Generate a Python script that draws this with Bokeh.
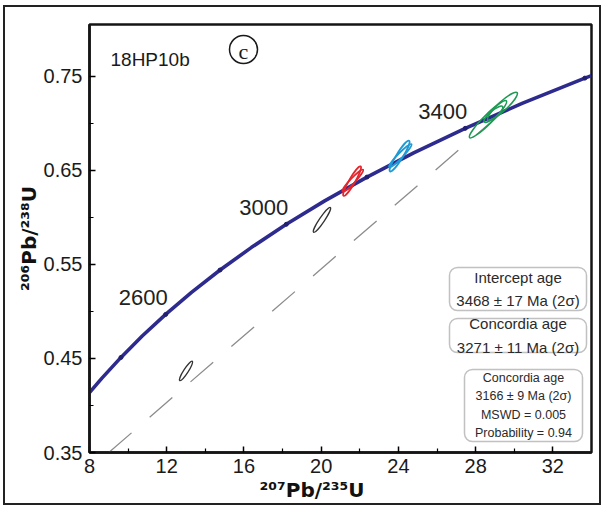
import math
from bokeh.plotting import figure
from bokeh.models import FixedTicker, Label, BoxAnnotation, Range1d, Title
from bokeh.embed import file_html
from bokeh.resources import INLINE
from bokeh.core.properties import value

# ---------------- data ----------------
# Concordia nodes: age (Ma), 207Pb/235U, 206Pb/238U
conc_age = [2231, 2300, 2400, 2500, 2600, 2700, 2800, 2900, 3000, 3100, 3200,
            3300, 3400, 3500, 3600, 3610]
conc_x = [8.0, 8.633, 9.630, 10.730, 11.944, 13.283, 14.762, 16.393, 18.193,
          20.180, 22.372, 24.790, 27.460, 30.405, 33.656, 34.0]
conc_y = [0.4136, 0.4288, 0.4511, 0.4738, 0.4968, 0.5202, 0.5440, 0.5681,
          0.5926, 0.6175, 0.6428, 0.6685, 0.6946, 0.7211, 0.7480, 0.7507]
marker_ages = [2400, 2600, 2800, 3000, 3200, 3400, 3600]
label_ages = [2600, 3000, 3400]

# Discordia (lower end at the axis, upper intercept 3468 Ma)
dis_x = [9.0, 29.43]
dis_y = [0.35, 0.7125]

# Analyses (ellipse centres)
ell_x = [13.00, 20.04, 21.60, 21.64, 24.06, 24.10, 28.64, 29.39, 28.92]
ell_y = [0.4367, 0.5973, 0.6385, 0.6390, 0.6651, 0.6656, 0.7043, 0.7181, 0.7096]
ell_group = ["grey", "grey", "red", "red", "blue", "blue", "green", "green", "green"]

x_ticks = [8, 12, 16, 20, 24, 28, 32]
x_minor = [10, 14, 18, 22, 26, 30]
y_ticks = [0.35, 0.45, 0.55, 0.65, 0.75]
y_minor = [0.40, 0.50, 0.60, 0.70]

x_title = "\u00b2\u2070\u2077Pb/\u00b2\u00b3\u2075U"
y_title = "\u00b2\u2070\u2076Pb/\u00b2\u00b3\u2078U"
sample_name = "18HP10b"
panel_letter = "c"
box_texts = ["Intercept age\n3468 \u00b1 17 Ma (2\u03c3)",
             "Concordia age\n3271 \u00b1 11 Ma (2\u03c3)",
             "Concordia age\n3166 \u00b1 9 Ma (2\u03c3)\nMSWD = 0.005\nProbability = 0.94"]

# ---------------- figure ----------------
OX, OY = 5, 7            # page offset of the canvas (inside the panel border)
X0, X1 = 8, 34
Y0, Y1 = 0.35, 0.805
W, H = 598, 500
FL, FR, FT, FB = 89 - OX, 591 - OX, 24 - OY, 452 - OY  # frame edges, canvas px

p = figure(width=W, height=H, x_range=Range1d(X0, X1), y_range=Range1d(Y0, Y1),
           output_backend="svg", toolbar_location=None,
           min_border_left=FL, min_border_right=W - FR,
           min_border_top=FT, min_border_bottom=H - FB)
p.margin = (OY - 2, 0, 0, OX - 2)
p.styles = {"border": "2px solid #222222"}
p.xgrid.visible = False
p.ygrid.visible = False
p.background_fill_color = "white"
p.border_fill_color = "white"
p.outline_line_color = "#151515"
p.outline_line_width = 2.5

# helpers: page px -> data (for annotation placement)
def cx(px):
    return X0 + (px - OX - FL) * (X1 - X0) / (FR - FL)

def cy(py):
    return Y0 + (FB - (py - OY)) * (Y1 - Y0) / (FB - FT)

for ax, tk, mn in ((p.xaxis, x_ticks, x_minor), (p.yaxis, y_ticks, y_minor)):
    ax.ticker = FixedTicker(ticks=tk, minor_ticks=mn)
    ax.axis_line_width = 2.5
    ax.axis_line_color = "#151515"
    ax.major_tick_in = 6
    ax.major_tick_out = 0
    ax.minor_tick_in = 4
    ax.minor_tick_out = 0
    ax.major_tick_line_width = 1.5
    ax.minor_tick_line_width = 1.2
    ax.major_label_text_font = "Liberation Sans"
    ax.major_label_text_font_size = "20px"
    ax.major_label_text_color = "#1a1a1a"
p.xaxis.major_label_standoff = 6
p.yaxis.major_label_standoff = 7

# axis titles
p.add_layout(Title(text=x_title, align="left", offset=170, standoff=0,
                   text_font="DejaVu Sans", text_font_size="20px",
                   text_font_style="bold", text_color="#111111"), "below")
p.add_layout(Title(text=y_title, align="center", standoff=0,
                   text_font="DejaVu Sans", text_font_size="20px",
                   text_font_style="bold", text_color="#111111"), "left")

# discordia
p.line(dis_x, dis_y, line_color="#8c8c8c", line_width=1.3, line_dash="30 24")

# concordia
p.line(conc_x, conc_y, line_color="#2e2b8f", line_width=3.6)
mi = [conc_age.index(a) for a in marker_ages]
p.scatter([conc_x[i] for i in mi], [conc_y[i] for i in mi], size=4,
          marker="circle", color="#23206f")
li = [conc_age.index(a) for a in label_ages]
p.text([conc_x[i] for i in li], [conc_y[i] for i in li], text=[str(a) for a in label_ages],
       text_align="right", text_baseline="bottom", x_offset=2, y_offset=-9,
       text_font=value("Liberation Sans"), text_font_size="22px", text_color="#222222")

# ellipses (screen sizes)
ell_major = [23, 30, 34, 30, 36, 32, 52, 40, 24]
ell_minor = [4.5, 5, 6, 5, 6.5, 5, 9, 9, 7]
ell_angle = [57, 56, 60, 47, 58, 46, 45, 43, 40]
colors = {"grey": "#333333", "red": "#e3262d", "blue": "#1e9ad6", "green": "#1f9a55"}
p.ellipse(ell_x, ell_y, width=ell_major, height=ell_minor, angle=ell_angle,
          width_units="screen", height_units="screen", angle_units="deg",
          fill_color=None, line_color=[colors[g] for g in ell_group],
          line_width=[1.3, 1.3, 1.8, 1.8, 1.8, 1.8, 1.6, 1.6, 1.6])

# sample name and panel letter
p.add_layout(Label(x=cx(110), y=cy(59), text=sample_name, text_align="left",
                   text_baseline="middle", text_font="Liberation Sans",
                   text_font_size="19px", text_color="#1a1a1a"))
p.scatter([cx(243)], [cy(49)], size=28, marker="circle", fill_color=None,
          line_color="#1a1a1a", line_width=1.5)
p.add_layout(Label(x=cx(243), y=cy(51), text=panel_letter, text_align="center",
                   text_baseline="middle", text_font="Liberation Serif",
                   text_font_size="22px", text_color="#1a1a1a"))

# result boxes (page px rectangles)
boxes = [(449, 586, 267, 310, 15, 1.4),
         (449, 586, 318, 352, 15, 1.4),
         (464, 582, 369, 441, 12.5, 1.3)]
for (l, r, t, b, fs, lh), txt in zip(boxes, box_texts):
    p.add_layout(BoxAnnotation(left=cx(l), right=cx(r), top=cy(t), bottom=cy(b),
                               fill_color="white", fill_alpha=1.0,
                               line_color="#333333", line_width=1.5,
                               border_radius=8))
    p.add_layout(Label(x=cx((l + r) / 2), y=cy((t + b) / 2), text=txt,
                       text_align="center", text_baseline="middle",
                       text_font="Liberation Sans", text_font_size=f"{fs}px",
                       text_line_height=lh, text_color="#2a2a2a"))

open("out.html", "w").write(file_html(p, INLINE))
